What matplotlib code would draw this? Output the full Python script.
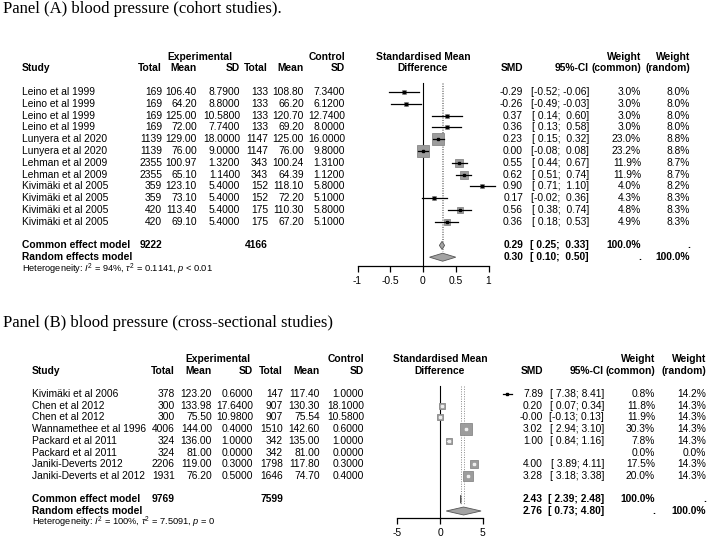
import matplotlib.pyplot as plt
import numpy as np

plt.rcParams["font.family"] = ["Liberation Sans", "DejaVu Sans"]
plt.rcParams["mathtext.fontset"] = "custom"
plt.rcParams["mathtext.rm"] = "Liberation Sans"
plt.rcParams["mathtext.it"] = "Liberation Sans:italic"

# ---- Panel A data (cohort studies) ----
studies_a = ["Leino et al 1999", "Leino et al 1999", "Leino et al 1999", "Leino et al 1999",
             "Lunyera et al 2020", "Lunyera et al 2020", "Lehman et al 2009", "Lehman et al 2009",
             "Kivimäki et al 2005", "Kivimäki et al 2005", "Kivimäki et al 2005", "Kivimäki et al 2005"]
exp_total_a = [169, 169, 169, 169, 1139, 1139, 2355, 2355, 359, 359, 420, 420]
exp_mean_a = [106.40, 64.20, 125.00, 72.00, 129.00, 76.00, 100.97, 65.10, 123.10, 73.10, 113.40, 69.10]
exp_sd_a = [8.79, 8.80, 10.58, 7.74, 18.00, 9.00, 1.32, 1.14, 5.40, 5.40, 5.40, 5.40]
ctrl_total_a = [133, 133, 133, 133, 1147, 1147, 343, 343, 152, 152, 175, 175]
ctrl_mean_a = [108.80, 66.20, 120.70, 69.20, 125.00, 76.00, 100.24, 64.39, 118.10, 72.20, 110.30, 67.20]
ctrl_sd_a = [7.34, 6.12, 12.74, 8.00, 16.00, 9.80, 1.31, 1.12, 5.80, 5.10, 5.80, 5.10]
smd_a = [-0.29, -0.26, 0.37, 0.36, 0.23, 0.00, 0.55, 0.62, 0.90, 0.17, 0.56, 0.36]
lo_a = [-0.52, -0.49, 0.14, 0.13, 0.15, -0.08, 0.44, 0.51, 0.71, -0.02, 0.38, 0.18]
hi_a = [-0.06, -0.03, 0.60, 0.58, 0.32, 0.08, 0.67, 0.74, 1.10, 0.36, 0.74, 0.53]
w_common_a = [3.0, 3.0, 3.0, 3.0, 23.0, 23.2, 11.9, 11.9, 4.0, 4.3, 4.8, 4.9]
w_random_a = [8.0, 8.0, 8.0, 8.0, 8.8, 8.8, 8.7, 8.7, 8.2, 8.3, 8.3, 8.3]
common_a = (0.29, 0.25, 0.33)
random_a = (0.30, 0.10, 0.50)
totals_a = (9222, 4166)
het_a = r"Heterogeneity: $I^2$ = 94%, $\tau^2$ = 0.1141, $p$ < 0.01"
ticks_a = [-1, -0.5, 0, 0.5, 1]
tick_labels_a = ["-1", "-0.5", "0", "0.5", "1"]

# ---- Panel B data (cross-sectional studies) ----
studies_b = ["Kivimäki et al 2006", "Chen et al 2012", "Chen et al 2012", "Wannamethee et al 1996",
             "Packard et al 2011", "Packard et al 2011", "Janiki-Deverts 2012", "Janiki-Deverts et al 2012"]
exp_total_b = [378, 300, 300, 4006, 324, 324, 2206, 1931]
exp_mean_b = [123.20, 133.98, 75.50, 144.00, 136.00, 81.00, 119.00, 76.20]
exp_sd_b = [0.60, 17.64, 10.98, 0.40, 1.00, 0.00, 0.30, 0.50]
ctrl_total_b = [147, 907, 907, 1510, 342, 342, 1798, 1646]
ctrl_mean_b = [117.40, 130.30, 75.54, 142.60, 135.00, 81.00, 117.80, 74.70]
ctrl_sd_b = [1.00, 18.10, 10.58, 0.60, 1.00, 0.00, 0.30, 0.40]
smd_b = [7.89, 0.20, -0.00, 3.02, 1.00, None, 4.00, 3.28]
lo_b = [7.38, 0.07, -0.13, 2.94, 0.84, None, 3.89, 3.18]
hi_b = [8.41, 0.34, 0.13, 3.10, 1.16, None, 4.11, 3.38]
w_common_b = [0.8, 11.8, 11.9, 30.3, 7.8, 0.0, 17.5, 20.0]
w_random_b = [14.2, 14.3, 14.3, 14.3, 14.3, 0.0, 14.3, 14.3]
common_b = (2.43, 2.39, 2.48)
random_b = (2.76, 0.73, 4.80)
totals_b = (9769, 7599)
het_b = r"Heterogeneity: $I^2$ = 100%, $\tau^2$ = 7.5091, $p$ = 0"
ticks_b = [-5, 0, 5]
tick_labels_b = ["-5", "0", "5"]

W, H = 709, 543
FS = 7.4
GREY = "#9c9c9c"

fig = plt.figure(figsize=(W / 100, H / 100), dpi=100)
canvas = fig.add_axes([0, 0, 1, 1])
canvas.set_xlim(0, W)
canvas.set_ylim(H, 0)
canvas.axis("off")


def fmt_ci(lo, hi, wlo, whi):
    return "[" + f"{lo:.2f}".rjust(wlo) + "; " + f"{hi:.2f}".rjust(whi) + "]"


def draw_panel(title, title_y, studies, et, em, esd, ct, cm, csd, smd, lo, hi, wc, wr,
               common, random, totals, het, ticks, tick_labels, L):
    y0, dy = L["y0"], L["dy"]

    def ypx(r):
        return y0 + r * dy

    canvas.text(3, title_y, title, family="Liberation Serif", fontsize=12, va="center")

    # headers
    hb = dict(fontsize=FS, fontweight="bold", va="center")
    canvas.text(L["exp_c"], ypx(-3), "Experimental", ha="center", **hb)
    canvas.text(L["c_sd"], ypx(-3), "Control", ha="right", **hb)
    canvas.text(L["study"], ypx(-2), "Study", ha="left", **hb)
    for key, lab in [("e_tot", "Total"), ("e_mean", "Mean"), ("e_sd", "SD"),
                     ("c_tot", "Total"), ("c_mean", "Mean"), ("c_sd", "SD"),
                     ("smd", "SMD"), ("ci", "95%-CI")]:
        canvas.text(L[key], ypx(-2), lab, ha="right", **hb)
    canvas.text(L["fp_c"], ypx(-3), "Standardised Mean", ha="center", **hb)
    canvas.text(L["fp_c"], ypx(-2), "Difference", ha="center", **hb)
    canvas.text(L["wc"], ypx(-3), "Weight", ha="right", **hb)
    canvas.text(L["wc"], ypx(-2), "(common)", ha="right", **hb)
    canvas.text(L["wr"], ypx(-3), "Weight", ha="right", **hb)
    canvas.text(L["wr"], ypx(-2), "(random)", ha="right", **hb)

    vals_lo = [v for v in lo + [common[1], random[1]] if v is not None]
    vals_hi = [v for v in hi + [common[2], random[2]] if v is not None]
    wlo = max(len(f"{v:.2f}") for v in vals_lo)
    whi = max(len(f"{v:.2f}") for v in vals_hi)

    rt = dict(fontsize=FS, va="center")
    for i, name in enumerate(studies):
        y = ypx(i)
        canvas.text(L["study"], y, name, ha="left", **rt)
        canvas.text(L["e_tot"], y, f"{et[i]}", ha="right", **rt)
        canvas.text(L["e_mean"], y, f"{em[i]:.2f}", ha="right", **rt)
        canvas.text(L["e_sd"], y, f"{esd[i]:.4f}", ha="right", **rt)
        canvas.text(L["c_tot"], y, f"{ct[i]}", ha="right", **rt)
        canvas.text(L["c_mean"], y, f"{cm[i]:.2f}", ha="right", **rt)
        canvas.text(L["c_sd"], y, f"{csd[i]:.4f}", ha="right", **rt)
        if smd[i] is not None:
            canvas.text(L["smd"], y, f"{smd[i]:.2f}", ha="right", **rt)
            canvas.text(L["ci"], y, fmt_ci(lo[i], hi[i], wlo, whi), ha="right", **rt)
        canvas.text(L["wc"], y, f"{wc[i]:.1f}%", ha="right", **rt)
        canvas.text(L["wr"], y, f"{wr[i]:.1f}%", ha="right", **rt)

    n = len(studies)
    rc, rr = n + 1, n + 2
    bt = dict(fontsize=FS, va="center", fontweight="bold")
    canvas.text(L["study"], ypx(rc), "Common effect model", ha="left", **bt)
    canvas.text(L["e_tot"], ypx(rc), f"{totals[0]}", ha="right", **bt)
    canvas.text(L["c_tot"], ypx(rc), f"{totals[1]}", ha="right", **bt)
    canvas.text(L["smd"], ypx(rc), f"{common[0]:.2f}", ha="right", **bt)
    canvas.text(L["ci"], ypx(rc), fmt_ci(common[1], common[2], wlo, whi), ha="right", **bt)
    canvas.text(L["wc"], ypx(rc), "100.0%", ha="right", **bt)
    canvas.text(L["wr"], ypx(rc), ".", ha="right", **bt)
    canvas.text(L["study"], ypx(rr), "Random effects model", ha="left", **bt)
    canvas.text(L["smd"], ypx(rr), f"{random[0]:.2f}", ha="right", **bt)
    canvas.text(L["ci"], ypx(rr), fmt_ci(random[1], random[2], wlo, whi), ha="right", **bt)
    canvas.text(L["wc"], ypx(rr), ".", ha="right", **bt)
    canvas.text(L["wr"], ypx(rr), "100.0%", ha="right", **bt)
    canvas.text(L["study"], ypx(rr + 1), het, ha="left", fontsize=6.7, va="center")

    # forest axes
    left, right, bottom, top = L["ax_l"], L["ax_r"], L["ax_b"], L["ax_t"]
    ax = fig.add_axes([left / W, 1 - bottom / H, (right - left) / W, (bottom - top) / H])
    ax.patch.set_alpha(0)
    ax.set_xlim((left - L["zero"]) / L["ppu"], (right - L["zero"]) / L["ppu"])
    ax.set_ylim((bottom - y0) / dy, (top - y0) / dy)
    for s in ["top", "left", "right"]:
        ax.spines[s].set_visible(False)
    ax.spines["bottom"].set_bounds(ticks[0], ticks[-1])
    ax.spines["bottom"].set_linewidth(0.9)
    ax.set_xticks(ticks)
    ax.set_xticklabels(tick_labels)
    ax.tick_params(axis="x", direction="out", length=4.5, width=0.9, labelsize=FS, pad=3)
    ax.set_yticks([])

    ybot = (bottom - y0) / dy
    ax.plot([0, 0], [L["line_top"], ybot], color="black", lw=0.8)
    for est in (common[0], random[0]):
        ax.plot([est, est], [L["line_top"], rc + 0.5], color="#8a8a8a", lw=0.7, ls=(0, (1, 1.5)))

    wmax = max(wc)
    for i in range(n):
        if smd[i] is None:
            continue
        side = L["box"] * np.sqrt(wc[i] / wmax)
        ci_pts = (hi[i] - lo[i]) * L["ppu"] * 0.72
        inside = ci_pts < side and L["white_inside"]
        col = "#eeeeee" if inside else "black"
        ax.plot(smd[i], i, marker="s", ms=side, mfc=GREY, mec="#888888", mew=0.6, zorder=3)
        ax.plot([lo[i], hi[i]], [i, i], color=col, lw=0.9, zorder=4)
        ax.plot(smd[i], i, marker="s", ms=1.6, color=col, zorder=5)

    h = L["dh"]
    for r, (est, l, u) in [(rc, common), (rr, random)]:
        ax.fill([l, est, u, est], [r, r - h, r, r + h], facecolor="#a3a3a3",
                edgecolor="#555555", lw=0.6, zorder=3)


layout_a = dict(y0=92, dy=11.8, study=22, e_tot=162, e_mean=197, e_sd=240, c_tot=268,
                c_mean=304, c_sd=345, smd=523, ci=589, wc=641, wr=690,
                fp_c=423, exp_c=200, ax_l=340, ax_r=520, ax_t=80, ax_b=266,
                zero=423, ppu=65.5, line_top=-0.75, box=8.0, dh=0.34, white_inside=False)
layout_b = dict(y0=394, dy=11.7, study=32, e_tot=175, e_mean=212, e_sd=253, c_tot=283,
                c_mean=320, c_sd=364, smd=543, ci=604, wc=655, wr=706,
                fp_c=440, exp_c=218, ax_l=380, ax_r=520, ax_t=380, ax_b=517.5,
                zero=440, ppu=8.55, line_top=-0.7, box=8.0, dh=0.34, white_inside=True)

draw_panel("Panel (A) blood pressure (cohort studies).", 9, studies_a, exp_total_a, exp_mean_a,
           exp_sd_a, ctrl_total_a, ctrl_mean_a, ctrl_sd_a, smd_a, lo_a, hi_a, w_common_a,
           w_random_a, common_a, random_a, totals_a, het_a, ticks_a, tick_labels_a, layout_a)
draw_panel("Panel (B) blood pressure (cross-sectional studies)", 323, studies_b, exp_total_b,
           exp_mean_b, exp_sd_b, ctrl_total_b, ctrl_mean_b, ctrl_sd_b, smd_b, lo_b, hi_b,
           w_common_b, w_random_b, common_b, random_b, totals_b, het_b, ticks_b,
           tick_labels_b, layout_b)

fig.savefig("out.png", dpi=100)
plt.close(fig)
